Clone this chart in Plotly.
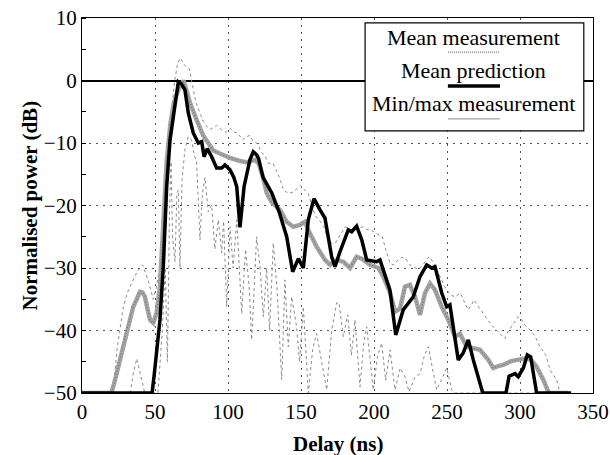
import plotly.graph_objects as go

# ---------------- data ----------------
pred_x = [0, 48, 49.5, 51.1, 53.4, 55.7, 58, 60.3, 63, 66, 68, 70.5, 72.8, 76.2, 79.7, 82, 83.6,
          85.8, 88.8, 92.2, 95.7, 97.9, 101.4, 104, 106, 108.2, 111, 115, 117.3, 119.6, 121, 124,
          130, 135, 140.2, 144.3, 148.2, 151.6, 155, 158.9, 163, 166.4, 171, 173.3, 176.7, 182.4,
          184.7, 188.1, 191.6, 195, 201.8, 204.1, 210.9, 214.9, 220, 226.9, 231.5, 236.1, 239.5,
          241.8, 246.4, 249.8, 252, 254.3, 257.7, 261.1, 264.6, 268, 272.6, 274.5, 290.4, 292.5,
          296.6, 298.8, 302.3, 305, 307.3, 309.5, 311.4, 312.6, 335]
pred_y = [-50, -50, -47, -43.6, -38.3, -29.8, -17, -9.5, -5, -0.2, -0.5, -1.5, -5.2, -8.4, -10, -9.8, -12.2,
          -10.9, -12.2, -14, -14, -13.5, -14.3, -15.5, -17, -23.5, -17, -12.7, -11.4, -11.9, -12.5, -15.5,
          -18, -21, -25, -30.6, -28.5, -30, -22.3, -18.9, -20.7, -22, -28.2, -29.8, -27.4, -23.9,
          -24.2, -23.3, -25.5, -28.7, -29, -28.7, -33.5, -40.7, -36.7, -34.6, -31.4, -29.5, -30.0,
          -29.8, -34, -36.2, -35.9, -39.4, -44.7, -43.6, -41.5, -44.7, -48.5, -50, -50, -47.3,
          -46.9, -47.4, -46, -43.9, -44.2, -47, -50, -50, -50]

meas_x = [0, 20, 22, 24.9, 27, 30.6, 33, 35.1, 37.5, 39.7, 41.4, 43.1, 44.8, 46.6, 48.8, 51.1, 53.4,
          55.7, 58, 60.5, 63, 66, 69.4, 71.5, 74, 78, 83, 89.9, 95, 101.4, 107, 112.8, 118.5, 121,
          124, 126.5, 130, 135.6, 140.2, 144.7, 149.3, 152.7, 156.2, 160.7, 166.4, 169.9, 174.4,
          179, 183.6, 188.1, 191.6, 197.3, 203, 206.4, 211, 214.4, 217.8, 221.2, 224.6, 228.1,
          231.5, 234.9, 238.4, 241.8, 246.4, 250.9, 255.5, 258.9, 263.5, 267.2, 272.6, 278.3,
          281.7, 285, 288.5, 293.9, 297.7, 304.6, 308, 311.4, 316, 319.4, 321, 333]
meas_y = [-50, -50, -48.5, -45.8, -43.5, -39.9, -38, -36.2, -35, -33.8, -33.9, -34.6, -36.5, -38.3, -38.8, -37.2, -33,
          -24, -13, -7, -3.5, -1.5, 0, -1.5, -3.6, -6, -8.8, -11.2, -11.8, -12.4, -12.8, -13.1, -12.7, -13.3,
          -15.5, -18, -19.5, -20.7, -22.6, -23.4, -23.1, -22.6, -24.5, -26.6, -28.7, -29.5, -28.7,
          -29, -30, -28.2, -28.5, -29.5, -30, -31.4, -34, -37, -36.5, -33, -32.7, -34.6,
          -37.5, -34, -32.5, -33.5, -36.2, -38.3, -41, -40.5, -42.6, -42.8, -43.1, -44.7,
          -46, -45.7, -45.5, -44.9, -44.7, -44.4, -44.8, -45.8, -47.9, -49.8, -50, -50]

max_x = [0, 20, 21.4, 24, 28.3, 31, 34, 38, 41.5, 45.4, 48.8, 51, 53.4, 55.5, 57.4, 59.5, 61.4, 63.5,
         65.5, 67.3, 69.5, 71.5, 73.5, 76.1, 78, 80.1, 83, 85.5, 88, 92.2, 96.2, 99, 101.5, 104, 106.9,
         110, 112.5, 114.9, 117.5, 120.2, 123, 125.6, 128, 130.9, 133, 135, 138, 141.6, 145, 149.6,
         152.5, 155, 158, 160.3, 163, 165.6, 168, 171, 173.5, 176.3, 178.5, 180.3, 184, 187, 190,
         192.3, 195, 197.7, 202, 205.7, 208, 211.1, 213.5, 216.4, 219, 221.8, 224.5, 227.1, 230,
         232.4, 235, 237.8, 240.5, 243.1, 246, 248.5, 252, 255.2, 257.5, 259.2, 262, 264.5, 266.5,
         268.5, 271, 273.9, 277.8, 282, 285.9, 289.7, 291.2, 295, 298.8, 301, 303.2, 306.8, 310,
         313.7, 317.9, 320.5, 325.1, 327.4, 335]
max_y = [-50, -50, -49.5, -43, -36.2, -34, -32.4, -30.5, -29.5, -32, -35, -33, -29.8, -25, -19, -11, -4.8, 0,
         2.7, 3.6, 2.7, 2.2, 1.9, -1.3, -3.5, -4.8, -6.5, -7.4, -7.8, -7.2, -8, -8.3, -7.7, -8.2, -8.5,
         -9.5, -9, -8.8, -9.8, -10.1, -11.5, -12.2, -13.3, -13.3, -14.5, -15.4, -17.5, -18.1, -17.8, -16.8,
         -17.5, -18.1, -20.5, -21.8, -22.5, -23.4, -25, -26.1, -26, -25, -24, -23.4, -24, -23.9, -23.6,
         -23.4, -23.8, -23.9, -24.5, -25, -27, -29.3, -29.5, -28.7, -28.3, -28.5, -29.5, -29.8, -30.2,
         -29.8, -29, -28.2, -29, -30.3, -31.5, -33, -34.2, -34.6, -34.3, -34, -35.5, -36.7, -36,
         -35.1, -36, -37, -38.3, -39.5, -40.4, -41.3, -40.4, -39, -37.8, -38.2, -39.1, -39.9, -40.8,
         -42.6, -44, -46.3, -47.9, -50, -50]

min_x = [0, 33, 35, 37.5, 40, 43, 52, 55, 57, 58.5, 60, 61, 62, 63.7, 65, 66, 67.1, 68.5, 70.5, 72.8,
         75, 77, 78.5, 80.8, 82.5, 84.2, 86.5, 88.8, 91, 93.4, 95.7, 97, 99.1, 101.4, 103.5, 106,
         109.4, 112, 114.5, 116.2, 119.6, 122, 124.2, 126.5, 128.5, 131, 133.5, 135.6, 136.8, 139,
         141.3, 143.6, 147, 149, 151.6, 155, 158, 160.7, 164, 167.6, 171, 174.4, 176, 179, 182,
         184.5, 187, 190.4, 193, 195, 197.5, 199.5, 202.5, 205.3, 208, 211, 214.4, 218, 221.2, 224,
         228, 231.5, 234.5, 237.2, 240, 242.9, 246, 249.8, 253.2, 255, 335]
min_y = [-50, -50, -47, -44.5, -47, -50, -50, -40, -30, -45, -20, -13, -25, -29, -18, -17.5, -30, -16, -11, -9,
         -9.5, -12, -13, -25.5, -18, -15.5, -21, -19.9, -27, -22.3, -27.6, -22.5, -36.2, -23.4, -30, -22.3,
         -37.3, -27, -33, -41.5, -25, -30, -37.8, -30, -40, -26, -33, -42.6, -47.9, -31.9,
         -42.6, -34.6, -39.4, -45, -36.2, -50, -43, -40.5, -45, -49.5, -40, -35.6, -35.5, -41, -37.5,
         -44, -38.3, -49, -42, -39.4, -45, -49.5, -44, -42, -48, -43.1, -49.5, -46, -47.4, -49.8,
         -47.5, -46.9, -44, -42.6, -46, -49.5, -48, -46, -49.5, -50, -50]

x_ticks = [0, 50, 100, 150, 200, 250, 300, 350]
y_ticks = [10, 0, -10, -20, -30, -40, -50]
legend_labels = ["Mean measurement", "Mean prediction", "Min/max measurement"]
x_title = "Delay (ns)"
y_title = "Normalised power (dB)"

FONT = "Liberation Serif, Times New Roman, Times, serif"
GRAY_THIN = "#8a8a8a"
GRAY_MEAN = "#a4a4a4"

fig = go.Figure()
fig.add_trace(go.Scatter(x=min_x, y=min_y, mode="lines",
                         line=dict(color=GRAY_THIN, width=1, dash="dot"), showlegend=False))
fig.add_trace(go.Scatter(x=max_x, y=max_y, mode="lines",
                         line=dict(color=GRAY_THIN, width=1, dash="dot"), showlegend=False))
fig.add_trace(go.Scatter(x=meas_x, y=meas_y, mode="lines",
                         line=dict(color=GRAY_MEAN, width=4.5), showlegend=False))
fig.add_trace(go.Scatter(x=meas_x, y=meas_y, mode="lines",
                         line=dict(color="#757575", width=1.2, dash="1px,2px"), showlegend=False))
fig.add_trace(go.Scatter(x=pred_x, y=pred_y, mode="lines",
                         line=dict(color="black", width=3.5), showlegend=False))

axis_common = dict(showline=True, linecolor="black", linewidth=1.2, mirror=True, automargin=False,
                   tickfont=dict(family=FONT, size=21, color="black"))
fig.update_xaxes(range=[0, 350], tickvals=x_ticks, ticks="", showgrid=True,
                 gridcolor="#555", griddash="2px,5px", gridwidth=1, zeroline=False, **axis_common)
fig.update_yaxes(range=[-50, 10], tickvals=y_ticks, ticks="", showgrid=True,
                 gridcolor="#555", griddash="2px,5px", gridwidth=1,
                 zeroline=True, zerolinecolor="black", zerolinewidth=1.5,
                 minor=dict(ticks="inside", dtick=5, tick0=5, ticklen=4, tickcolor="black",
                            showgrid=False),
                 **axis_common)

# axis titles placed as in the reference
fig.add_annotation(xref="paper", yref="paper", x=0.5, y=-0.136, text="<b>" + x_title + "</b>",
                   showarrow=False, font=dict(family=FONT, size=21, color="black"),
                   xanchor="center", yanchor="middle")
fig.add_annotation(xref="paper", yref="paper", x=-0.1018, y=0.5, text="<b>" + y_title + "</b>",
                   showarrow=False, textangle=-90, font=dict(family=FONT, size=21, color="black"),
                   xanchor="center", yanchor="middle")

# custom legend (text above its line sample, as in the reference)
fig.add_shape(type="rect", xref="paper", yref="paper", x0=0.554, x1=0.982, y0=0.699, y1=0.987,
              line=dict(color="black", width=1.2), fillcolor="white", layer="above")
text_y = [0.947, 0.859, 0.773]
samp_y = [0.909, 0.819, 0.731]
samp_style = [dict(color=GRAY_MEAN, width=2, dash="1px,1px"),
              dict(color="black", width=3.5),
              dict(color=GRAY_THIN, width=1)]
for lab, ty, sy, st in zip(legend_labels, text_y, samp_y, samp_style):
    fig.add_annotation(xref="paper", yref="paper", x=0.767, y=ty, text=lab, showarrow=False,
                       font=dict(family=FONT, size=22, color="black"), xanchor="center",
                       yanchor="middle")
    fig.add_shape(type="line", xref="paper", yref="paper", x0=0.716, x1=0.818, y0=sy, y1=sy,
                  line=st, layer="above")

fig.update_layout(width=610, height=455, margin=dict(l=82, r=17, t=18, b=62),
                  plot_bgcolor="white", paper_bgcolor="white", showlegend=False)
fig.write_html("out.html", config={"displayModeBar": False},
               post_script="document.body.style.margin='0';document.body.style.padding='0';")
